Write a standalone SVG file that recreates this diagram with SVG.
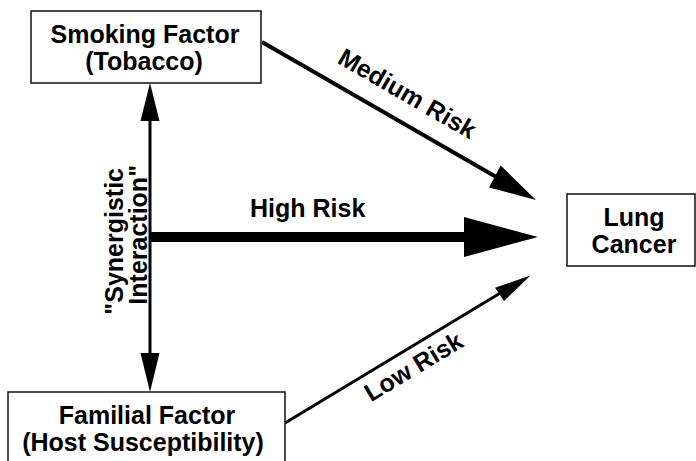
<svg xmlns="http://www.w3.org/2000/svg" width="696" height="461" viewBox="0 0 696 461">
<style>
.box{fill:#fff;stroke:#111;stroke-width:1.5}
.t{font-family:"Liberation Sans",Arial,sans-serif;font-weight:bold;font-size:25px;fill:#000}
.c{text-anchor:middle}
.ln{stroke:#000;fill:none}
.hd{fill:#000;stroke:none}
</style>
<rect width="696" height="461" fill="#fff"/>
<g id="connectors">
<line class="ln" x1="150" y1="118" x2="150" y2="356" stroke-width="3"/>
<polygon class="hd" points="150,83 140.5,121 159.5,121"/>
<polygon class="hd" points="150,392 140.5,353 159.5,353"/>
<line class="ln" x1="150" y1="237" x2="468" y2="237" stroke-width="10"/>
<polygon class="hd" points="538,237 464,217 464,257"/>
<line class="ln" x1="262" y1="42" x2="498" y2="178" stroke-width="4"/>
<polygon class="hd" points="536,200 500.7,165.5 489,187.5"/>
<line class="ln" x1="285" y1="423" x2="502" y2="292" stroke-width="3"/>
<polygon class="hd" points="530.5,275.5 495,287.7 504,301"/>
<text class="t c" transform="translate(403,101) rotate(30)">Medium Risk</text>
<text class="t" x="250" y="217">High Risk</text>
<text class="t c" transform="translate(418,374) rotate(-31)">Low Risk</text>
<text class="t" text-anchor="end" transform="translate(122.5,168) rotate(-90)">"Synergistic</text>
<text class="t" text-anchor="end" transform="translate(146.5,165) rotate(-90)">Interaction"</text>
</g>
<g id="smoking">
<rect class="box" x="31" y="11" width="230" height="72"/>
<text class="t c" x="145" y="43">Smoking Factor</text>
<text class="t c" x="144" y="70">(Tobacco)</text>
</g>
<g id="familial">
<rect class="box" x="8" y="392" width="277" height="80"/>
<text class="t c" x="147" y="424">Familial Factor</text>
<text class="t c" x="143" y="451">(Host Susceptibility)</text>
</g>
<g id="lung">
<rect class="box" x="567" y="194" width="128" height="72"/>
<text class="t c" x="634" y="226">Lung</text>
<text class="t c" x="634" y="253">Cancer</text>
</g>
</svg>
